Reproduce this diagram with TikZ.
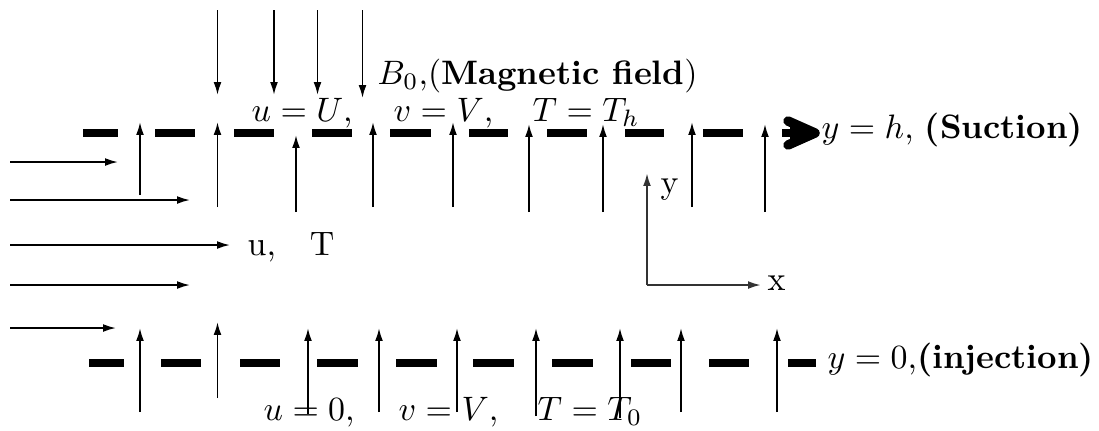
\documentclass[tikz,border=0pt]{standalone}
\usetikzlibrary{arrows.meta}
\begin{document}
\begin{tikzpicture}[x=0.295pt,y=-0.295pt,
  arr/.style={line width=0.5pt,-{Latex[length=3.8pt,width=2.3pt]}},
  axarr/.style={line width=0.6pt,black!80,-{Latex[length=3.8pt,width=2.3pt]}},
  wall/.style={line width=2.4pt},
  lbl/.style={inner sep=0pt,font=\fontsize{10}{12}\selectfont}]
\useasboundingbox (0,0) rectangle (1099,430);
% top wall
\foreach \a/\b in {83/118,155/195,234/274,312/352,390/431,469/508,547/587,625/664,703/743}
  \draw[wall] (\a,133) -- (\b,133);
\draw[wall] (782,133) -- (810,133);
\draw[line width=2.8pt,line cap=round,line join=round] (788,121) -- (815,133) -- (788,145);
\fill (790,124) -- (813,133) -- (790,142) -- cycle;
% bottom wall
\foreach \a/\b in {89/124,161/201,240/280,317/358,396/437,473/514,552/593,631/671,709/749,788/816}
  \draw[wall] (\a,363) -- (\b,363);
% magnetic field arrows
\foreach \x/\t in {217.5/95,274/95,317.5/95,362.5/98}
  \draw[arr] (\x,10) -- (\x,\t);
% suction arrows (top)
\foreach \x/\t/\b in {140/122/195,217.5/122/207,296/135/212,373/122/207,453/122/207,529/124/212,603/124/212,692/122/207,765/124/212}
  \draw[arr] (\x,\b) -- (\x,\t);
% injection arrows (bottom)
\foreach \x/\t/\b in {140/328/412,217.5/322/398,308/328/414,379/328/412,457/328/412,536/328/416,620/328/418,681/328/412,777/328/412}
  \draw[arr] (\x,\b) -- (\x,\t);
% inflow
\foreach \y/\e in {162/118,200/190,245/230,285/190,328/116}
  \draw[arr] (10,\y) -- (\e,\y);
% axes
\coordinate (o) at (647,285);
\draw[axarr] (o) -- (647,173);
\draw[axarr] (o) -- (761,285);
% labels
\node[lbl,anchor=base west] (bfield) at (377,84) {$B_0$,(\textbf{Magnetic field})};
\node[lbl,anchor=base west] (tu) at (251,121) {$u=U$,};
\node[lbl,anchor=base west] (tv) at (393,121) {$v=V$,};
\node[lbl,anchor=base west] (tT) at (532,121) {$T=T_h$};
\node[lbl,anchor=base west] (suc) at (821,138) {$y=h$, \textbf{(Suction)}};
\node[lbl,anchor=base west] (uT) at (247,255) {u,\quad T};
\node[lbl,anchor=base west] (ylab) at (660,193) {y};
\node[lbl,anchor=base west] (xlab) at (767,290) {x};
\node[lbl,anchor=base west] (inj) at (827,368) {$y=0$,\textbf{(injection)}};
\node[lbl,anchor=base west] (bu) at (263,420) {$u=0$,};
\node[lbl,anchor=base west] (bv) at (398,420) {$v=V$,};
\node[lbl,anchor=base west] (bT) at (537,420) {$T=T_0$};
\end{tikzpicture}
\end{document}
